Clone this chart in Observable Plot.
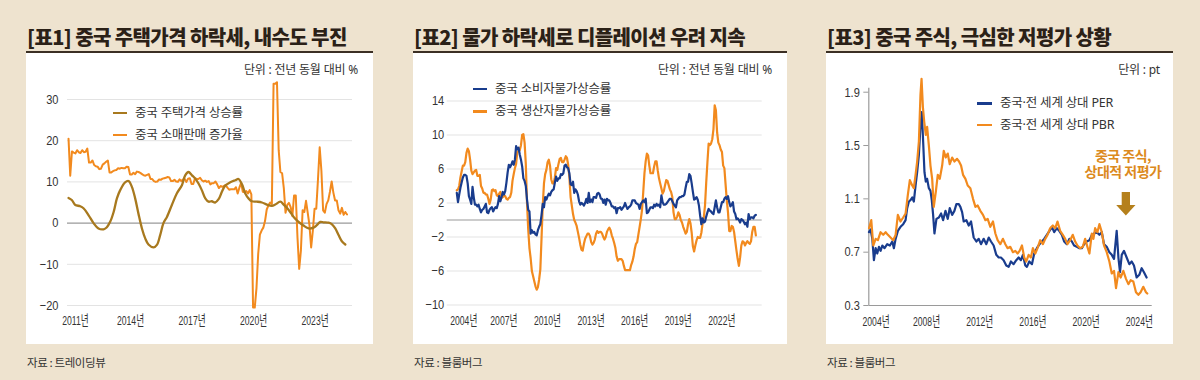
<!DOCTYPE html>
<html><head><meta charset="utf-8">
<script src="https://cdn.jsdelivr.net/npm/d3@7"></script>
<script src="https://cdn.jsdelivr.net/npm/@observablehq/plot@0.6"></script>
<style>
body{margin:0;background:#eee3cf;}
#root{position:relative;width:1200px;height:380px;background:#eee3cf;overflow:hidden;font-family:'Noto Sans CJK KR','Noto Sans',sans-serif;}
.abs{position:absolute;white-space:nowrap;}
.title{font-size:20px;font-weight:900;color:#2b2117;letter-spacing:-0.6px;line-height:21px;}
.rule{height:2px;background:#3b2f24;}
.box{background:#fff;}
.legend{font-family:'Noto Sans','Noto Sans CJK KR',sans-serif;font-size:12.5px;color:#333;line-height:14px;letter-spacing:-0.2px;}
.unit{font-family:'Noto Sans','Noto Sans CJK KR',sans-serif;font-size:12px;color:#333;line-height:14px;letter-spacing:-0.2px;}
.src{font-size:11.5px;color:#333;line-height:14px;letter-spacing:-0.4px;}
.note{font-size:14px;font-weight:700;color:#dc8a1d;line-height:15px;height:15px;width:100px;text-align:center;letter-spacing:-0.5px;}
</style></head>
<body><div id="root"></div>
<script>
// ---------------- DATA ----------------
// Panel 1: China retail sales YoY %, monthly from 2011-01
const retailStart = 2011;
const retail = [
20.5, 11.5, 17.4, 17.1, 16.9, 17.7, 17.2, 17.0, 17.7, 17.2, 17.3, 18.1,
14.7, 14.7, 15.2, 14.1, 13.8, 13.7, 13.1, 13.2, 14.2, 14.5, 14.9, 15.2,
12.3, 12.3, 12.6, 12.8, 12.9, 13.3, 13.2, 13.4, 13.3, 13.3, 13.7, 13.6,
11.8, 11.8, 12.2, 11.9, 12.5, 12.4, 12.2, 11.9, 11.6, 11.5, 11.7, 11.9,
10.7, 10.7, 10.2, 10.0, 10.1, 10.6, 10.5, 10.8, 10.9, 11.0, 11.2, 11.1,
10.2, 10.2, 10.5, 10.1, 10.0, 10.6, 10.2, 10.6, 10.7, 10.0, 10.8, 10.9,
9.5, 9.5, 10.9, 10.7, 10.7, 11.0, 10.4, 10.1, 10.3, 10.0, 10.2, 9.4,
9.7, 9.7, 10.1, 9.4, 8.5, 9.0, 8.8, 9.0, 9.2, 8.6, 8.1, 8.2,
8.2, 8.2, 8.7, 7.2, 8.6, 9.8, 7.6, 7.5, 7.8, 7.2, 8.0, 7.0,
-20.5, -20.5, -15.8, -7.5, -2.8, -1.8, -1.1, 0.5, 3.3, 4.3, 5.0, 4.6,
33.8, 33.8, 34.2, 17.7, 12.4, 12.1, 8.5, 2.5, 4.4, 4.9, 3.9, 1.7,
6.7, 6.7, -3.5, -11.1, -6.7, 3.1, 2.7, 5.4, 2.5, -0.5, -5.9, -1.8,
3.5, 3.5, 10.6, 18.4, 12.7, 3.1, 2.5, 4.6, 5.5, 7.6, 10.1, 7.4,
5.5, 5.5, 3.1, 2.3, 3.7, 2.0, 2.7, 2.1
];
// Panel 1: China house price growth %, [year, value]
const house = [
[2011.00,6.1],[2011.16,5.6],[2011.33,4.4],[2011.57,4.1],[2011.73,3.6],[2011.98,1.9],
[2012.22,0.0],[2012.46,-1.3],[2012.71,-1.5],[2012.87,-1.0],[2013.03,0.3],[2013.20,2.7],
[2013.36,6.0],[2013.52,8.0],[2013.76,9.9],[2013.93,10.2],[2014.09,8.8],[2014.25,6.0],
[2014.41,2.3],[2014.58,-1.3],[2014.74,-3.7],[2014.90,-5.2],[2015.15,-5.9],[2015.31,-5.3],
[2015.47,-2.9],[2015.63,0.0],[2015.80,1.5],[2016.04,4.4],[2016.28,7.2],[2016.53,9.2],
[2016.69,11.6],[2016.85,12.4],[2017.02,11.6],[2017.18,10.8],[2017.34,9.6],[2017.50,8.0],
[2017.67,6.0],[2017.83,5.2],[2017.99,5.3],[2018.15,5.0],[2018.32,5.8],[2018.48,7.6],
[2018.64,9.1],[2018.89,9.9],[2019.13,10.4],[2019.29,10.7],[2019.46,9.4],[2019.62,7.2],
[2019.78,6.0],[2019.94,5.3],[2020.19,5.2],[2020.43,5.0],[2020.67,4.5],[2020.92,4.2],
[2021.08,4.5],[2021.33,5.2],[2021.49,4.5],[2021.65,3.7],[2021.81,2.7],[2021.98,1.5],
[2022.22,0.3],[2022.46,-0.6],[2022.71,-1.3],[2022.95,-1.1],[2023.11,-0.5],[2023.28,0.3],
[2023.44,0.2],[2023.68,0.1],[2023.85,-0.3],[2024.01,-1.3],[2024.17,-2.9],[2024.33,-4.4],
[2024.50,-5.2]
];
const p1YTicks = [-20, -10, 0, 10, 20, 30];
const p1XTicks = [2011, 2014, 2017, 2020, 2023];

// Panel 2: CPI and PPI YoY %, monthly from 2004-01
const priceStart = 2004;
const cpi = [
3.2,2.1,3.0,3.8,4.4,5.0,5.3,5.3,5.2,4.3,2.8,2.4,
1.9,3.9,2.7,1.8,1.8,1.6,1.8,1.3,0.9,1.2,1.3,1.6,
1.9,0.9,0.8,1.2,1.4,1.5,1.0,1.3,1.5,1.4,1.9,2.8,
2.2,2.7,3.3,3.0,3.4,4.4,5.6,6.5,6.2,6.5,6.9,6.5,
7.1,8.7,8.3,8.5,7.7,7.1,6.3,4.9,4.6,4.0,2.4,1.2,
1.0,-1.6,-1.2,-1.5,-1.4,-1.7,-1.8,-1.2,-0.8,-0.5,0.6,1.9,
1.5,2.7,2.4,2.8,3.1,2.9,3.3,3.5,3.6,4.4,5.1,4.6,
4.9,4.9,5.4,5.3,5.5,6.4,6.5,6.2,6.1,5.5,4.2,4.1,
4.5,3.2,3.6,3.4,3.0,2.2,1.8,2.0,1.9,1.7,2.0,2.5,
2.0,3.2,2.1,2.4,2.1,2.7,2.7,2.6,3.1,3.2,3.0,2.5,
2.5,2.0,2.4,1.8,2.5,2.3,2.3,2.0,1.6,1.6,1.4,1.5,
0.8,1.4,1.4,1.5,1.2,1.4,1.6,2.0,1.6,1.3,1.5,1.6,
1.8,2.3,2.3,2.3,2.0,1.9,1.8,1.3,1.9,2.1,2.3,2.1,
2.5,0.8,0.9,1.2,1.5,1.5,1.4,1.8,1.6,1.9,1.7,1.8,
1.5,2.9,2.1,1.8,1.8,1.9,2.1,2.3,2.5,2.5,2.2,1.9,
1.7,1.5,2.3,2.5,2.7,2.7,2.8,2.8,3.0,3.8,4.5,4.5,
5.4,5.2,4.3,3.3,2.4,2.5,2.7,2.4,1.7,0.5,-0.5,0.2,
-0.3,-0.2,0.4,0.9,1.3,1.1,1.0,0.8,0.7,1.5,2.3,1.5,
0.9,0.9,1.5,2.1,2.1,2.5,2.7,2.5,2.8,2.1,1.6,1.8,
2.1,1.0,0.7,0.1,0.2,0.0,-0.3,0.1,0.0,-0.2,-0.5,-0.3,
-0.8,0.7,0.1,0.3,0.3,0.2,0.5,0.6
];
const ppi = [
3.5,3.6,4.0,5.0,5.7,6.4,6.4,6.8,7.9,8.4,8.1,7.1,
5.8,5.4,5.6,5.8,5.9,5.2,5.2,5.3,4.0,3.7,3.2,3.2,
3.0,3.0,2.5,1.9,2.4,3.5,3.6,3.4,3.5,2.9,2.8,3.1,
3.3,2.6,2.7,2.9,2.8,2.5,2.4,2.6,2.7,3.2,4.6,5.4,
6.1,6.6,8.0,8.1,8.2,8.8,10.0,10.1,9.1,6.6,2.0,-1.1,
-3.3,-4.5,-6.0,-6.6,-7.2,-7.8,-8.2,-7.9,-7.0,-5.8,-2.1,1.7,
4.3,5.4,5.9,6.8,7.1,6.4,4.8,4.3,4.3,5.0,6.1,5.9,
6.6,7.2,7.3,6.8,6.8,7.1,7.5,7.3,6.5,5.0,2.7,1.7,
0.7,0.0,-0.3,-0.7,-1.4,-2.1,-2.9,-3.5,-3.6,-2.8,-2.2,-1.9,
-1.6,-1.6,-1.9,-2.6,-2.9,-2.7,-2.3,-1.6,-1.3,-1.5,-1.4,-1.4,
-1.6,-2.0,-2.3,-2.0,-1.4,-1.1,-0.9,-1.2,-1.8,-2.2,-2.7,-3.3,
-4.3,-4.8,-4.6,-4.6,-4.6,-4.8,-5.4,-5.9,-5.9,-5.9,-5.9,-5.9,
-5.3,-4.9,-4.3,-3.4,-2.8,-2.6,-1.7,-0.8,0.1,1.2,3.3,5.5,
6.9,7.8,7.6,6.4,5.5,5.5,5.5,6.3,6.9,6.9,5.8,4.9,
4.3,3.7,3.1,3.4,4.1,4.7,4.6,4.1,3.6,3.3,2.7,0.9,
0.1,0.1,0.4,0.9,0.6,0.0,-0.3,-0.8,-1.2,-1.6,-1.4,-0.5,
0.1,-0.4,-1.5,-3.1,-3.7,-3.0,-2.4,-2.0,-2.1,-2.1,-1.5,-0.4,
0.3,1.7,4.4,6.8,9.0,8.8,9.0,9.5,10.7,13.5,12.9,10.3,
9.1,8.8,8.3,8.0,6.4,6.1,4.2,2.3,0.9,-1.3,-1.3,-0.7,
-0.8,-1.4,-2.5,-3.6,-4.6,-5.4,-4.4,-3.0,-2.5,-2.6,-3.0,-2.7,
-2.5,-2.7,-2.8,-2.5,-1.4,-0.8,-0.8,-1.8
];
const p2YTicks = [-10, -6, -2, 2, 6, 10, 14];
const p2XTicks = [2004, 2007, 2010, 2013, 2016, 2019, 2022];

// Panel 3: China vs world relative PER / PBR, [year, value]
const per = [
[2003.88,.85],[2004.00,.87],[2004.13,.80],[2004.25,.64],[2004.38,.73],[2004.50,.69],[2004.63,.74],[2004.75,.71],
[2004.88,.75],[2005.05,.73],[2005.25,.76],[2005.45,.75],[2005.63,.78],[2005.75,.73],[2005.88,.80],[2006.05,.86],
[2006.25,.89],[2006.45,.91],[2006.63,.94],[2006.75,1.03],[2006.88,1.08],[2007.00,1.09],[2007.13,1.11],[2007.25,1.08],
[2007.38,1.20],[2007.50,1.30],[2007.63,1.43],[2007.75,1.65],[2007.85,1.75],[2007.95,1.53],[2008.05,1.30],[2008.15,1.23],
[2008.25,1.25],[2008.38,1.18],[2008.50,1.16],[2008.60,1.09],[2008.70,.98],[2008.80,.84],[2008.95,.95],[2009.13,.96],
[2009.30,.99],[2009.45,.94],[2009.63,1.01],[2009.80,.95],[2009.95,1.03],[2010.13,.98],[2010.30,1.01],[2010.45,1.06],
[2010.63,1.06],[2010.75,1.04],[2010.88,1.00],[2011.00,.93],[2011.20,.94],[2011.38,.90],[2011.55,.93],[2011.75,.81],
[2011.95,.78],[2012.13,.80],[2012.30,.76],[2012.50,.80],[2012.70,.76],[2012.88,.81],[2013.05,.78],[2013.25,.75],
[2013.45,.68],[2013.63,.66],[2013.80,.66],[2014.00,.64],[2014.20,.60],[2014.38,.59],[2014.55,.63],[2014.75,.61],
[2014.95,.64],[2015.13,.66],[2015.30,.64],[2015.45,.68],[2015.63,.60],[2015.75,.59],[2015.93,.63],[2016.13,.61],
[2016.30,.69],[2016.50,.73],[2016.70,.76],[2016.88,.78],[2017.05,.80],[2017.25,.83],[2017.45,.86],[2017.63,.89],
[2017.80,.85],[2018.00,.88],[2018.18,.86],[2018.38,.83],[2018.55,.78],[2018.75,.76],[2018.95,.80],[2019.13,.78],
[2019.30,.75],[2019.50,.74],[2019.70,.73],[2019.88,.73],[2020.05,.76],[2020.25,.78],[2020.45,.79],[2020.63,.83],
[2020.80,.84],[2021.00,.85],[2021.20,.83],[2021.38,.85],[2021.55,.76],[2021.75,.74],[2021.95,.70],[2022.13,.68],
[2022.30,.65],[2022.50,.86],[2022.63,.66],[2022.75,.55],[2022.88,.68],[2023.05,.71],[2023.25,.66],[2023.45,.61],
[2023.63,.63],[2023.80,.60],[2024.00,.51],[2024.20,.53],[2024.38,.58],[2024.55,.55],[2024.75,.51]
];
const pbr = [
[2003.88,.88],[2004.05,.94],[2004.20,.75],[2004.38,.80],[2004.55,.79],[2004.75,.85],[2004.95,.83],[2005.13,.85],
[2005.30,.83],[2005.50,.81],[2005.70,.79],[2005.88,.83],[2006.05,.98],[2006.25,.93],[2006.45,.96],[2006.63,.99],
[2006.80,1.13],[2006.95,1.24],[2007.13,1.20],[2007.25,1.18],[2007.38,1.28],[2007.50,1.38],[2007.63,1.53],[2007.75,1.88],
[2007.83,2.00],[2007.93,1.79],[2008.03,1.68],[2008.15,1.58],[2008.25,1.64],[2008.38,1.50],[2008.50,1.35],[2008.63,1.25],
[2008.75,1.04],[2008.90,1.15],[2009.05,1.28],[2009.20,1.25],[2009.38,1.35],[2009.50,1.46],[2009.65,1.41],[2009.80,1.44],
[2009.95,1.36],[2010.13,1.41],[2010.30,1.38],[2010.50,1.40],[2010.65,1.38],[2010.80,1.35],[2010.95,1.28],[2011.13,1.25],
[2011.30,1.20],[2011.50,1.18],[2011.70,1.10],[2011.88,1.04],[2012.05,1.05],[2012.25,1.01],[2012.45,.98],[2012.63,.94],
[2012.80,.95],[2013.00,.89],[2013.20,.93],[2013.38,.84],[2013.55,.79],[2013.75,.76],[2013.95,.80],[2014.13,.76],
[2014.30,.73],[2014.50,.74],[2014.70,.70],[2014.88,.71],[2015.05,.69],[2015.20,.71],[2015.38,.75],[2015.55,.66],
[2015.70,.63],[2015.88,.68],[2016.05,.66],[2016.20,.73],[2016.38,.69],[2016.55,.73],[2016.75,.79],[2016.95,.76],
[2017.13,.80],[2017.30,.83],[2017.50,.88],[2017.70,.90],[2017.88,.88],[2018.05,.93],[2018.25,.86],[2018.45,.83],
[2018.63,.80],[2018.80,.76],[2019.00,.79],[2019.20,.83],[2019.38,.78],[2019.55,.75],[2019.75,.73],[2019.95,.74],
[2020.13,.80],[2020.30,.74],[2020.45,.69],[2020.63,.84],[2020.75,.80],[2020.88,.88],[2021.05,.85],[2021.20,.91],
[2021.38,.85],[2021.55,.75],[2021.75,.70],[2021.95,.63],[2022.13,.54],[2022.30,.56],[2022.45,.43],[2022.63,.55],
[2022.80,.51],[2023.00,.56],[2023.20,.50],[2023.38,.46],[2023.55,.49],[2023.75,.48],[2023.95,.40],[2024.13,.38],
[2024.30,.40],[2024.50,.44],[2024.70,.40],[2024.80,.39]
];
const p3YTicks = [0.3, 0.7, 1.1, 1.5, 1.9];
const p3XTicks = [2004, 2008, 2012, 2016, 2020, 2024];

// Texts
const titles = ["[표1] 중국 주택가격 하락세, 내수도 부진", "[표2] 물가 하락세로 디플레이션 우려 지속", "[표3] 중국 주식, 극심한 저평가 상황"];
const sources = ["자료 : 트레이딩뷰", "자료 : 블룸버그", "자료 : 블룸버그"];
const units = ["단위 : 전년 동월 대비 %", "단위 : 전년 동월 대비 %", "단위 :  pt"];
const legend1 = ["중국 주택가격 상승률", "중국 소매판매 증가율"];
const legend2 = ["중국 소비자물가상승률", "중국 생산자물가상승률"];
const legend3 = ["중국·전 세계 상대 PER", "중국·전 세계 상대 PBR"];
const noteLines = ["중국 주식,", "상대적 저평가"];

// ---------------- STYLE / LAYOUT ----------------
const ORANGE = "#f28a1e", NAVY = "#193c8d", BROWN = "#a8791e", NOTE_ARROW = "#b5801c";
const FONT = "'Liberation Sans','Noto Sans CJK KR',sans-serif";
const root = document.getElementById("root");
function el(cls, css, text) {
  const d = document.createElement("div");
  d.className = "abs " + cls;
  Object.assign(d.style, css);
  if (text != null) d.textContent = text;
  root.appendChild(d);
  return d;
}
const panels = [{x: 26, w: 347}, {x: 413, w: 374}, {x: 826, w: 347}];
panels.forEach((p, i) => {
  el("title", {left: (p.x + 1) + "px", top: "26px"}, titles[i]);
  el("rule", {left: p.x + "px", top: "51px", width: p.w + "px"});
  p.box = el("box", {left: p.x + "px", top: "53px", width: p.w + "px", height: "291px"});
  el("src", {left: (p.x + 1) + "px", top: "355px"}, sources[i]);
});
const unitRight = [358, 772, 1160];
units.forEach((u, i) => el("unit", {right: (1200 - unitRight[i]) + "px", top: "63px"}, u));

function legend(items, colors, lx, tx, ys) {
  items.forEach((t, i) => {
    el("", {left: lx + "px", top: (ys[i] - 1.25) + "px", width: "14.5px", height: "2.5px", background: colors[i]});
    el("legend", {left: tx + "px", top: (ys[i] - 7.5) + "px"}, t);
  });
}
legend(legend1, [BROWN, ORANGE], 112.5, 135, [113, 135]);
legend(legend2, [NAVY, ORANGE], 472.5, 495, [89, 111.5]);
legend(legend3, [NAVY, ORANGE], 977, 1000, [103.5, 125]);

noteLines.forEach((t, i) => el("note", {left: "1073px", top: (147.5 + i * 16) + "px"}, t));
const arrow = el("", {left: "1114px", top: "191px"});
arrow.innerHTML = `<svg width="24" height="26"><path d="M7.7,1 H16 V14 H21.5 L11.85,24.5 L2.2,14 H7.7 Z" fill="${NOTE_ARROW}"/></svg>`;

const baseStyle = {background: "transparent", fontFamily: FONT, fontSize: "13.5px", color: "#333", overflow: "visible"};
const yr = (d) => d + "년";

// squeeze tick labels horizontally (reference uses a condensed face)
function squeeze(svg) {
  svg.querySelectorAll("text").forEach(t => {
    const s = t.textContent.includes("년") ? 0.64 : 0.82;
    const tr = t.getAttribute("transform");
    if (tr) {
      t.setAttribute("transform", tr + ` scale(${s},1)`);
    } else {
      const x = parseFloat(t.getAttribute("x"));
      if (isFinite(x)) {
        t.removeAttribute("x");
        t.setAttribute("transform", `translate(${x},0) scale(${s},1)`);
      }
    }
  });
  return svg;
}

// ---------------- PANEL 1 ----------------
const retailRows = retail.map((v, i) => ({t: retailStart + i / 12, v}));
const houseRows = house.map(([t, v]) => ({t, v}));
const plot1 = Plot.plot({
  width: 347, height: 291,
  marginLeft: 41, marginRight: 21, marginTop: 25.4, marginBottom: 39,
  x: {domain: [2010.95, 2024.85], label: null},
  y: {domain: [-20, 35], label: null},
  style: baseStyle,
  marks: [
    Plot.ruleY(p1YTicks.filter(d => d !== 0), {stroke: "#e3e3e3"}),
    Plot.ruleY([0], {stroke: "#9a9a9a", strokeWidth: 1.2}),
    Plot.axisY(p1YTicks, {tickSize: 0, tickPadding: 9, label: null}),
    Plot.axisX(p1XTicks.slice(0, 1), {tickSize: 0, tickPadding: 10, dx: 7, tickFormat: yr, label: null}),
    Plot.axisX(p1XTicks.slice(1), {tickSize: 0, tickPadding: 10, dx: 0.5, tickFormat: yr, label: null}),
    Plot.line(retailRows, {x: "t", y: "v", stroke: ORANGE, strokeWidth: 2}),
    Plot.line(houseRows, {x: "t", y: "v", stroke: BROWN, strokeWidth: 2.3, curve: "catmull-rom"})
  ]
});
panels[0].box.appendChild(squeeze(plot1));

// ---------------- PANEL 2 ----------------
const cpiRows = cpi.map((v, i) => ({t: priceStart + i / 12, v}));
const ppiRows = ppi.map((v, i) => ({t: priceStart + i / 12, v}));
const plot2 = Plot.plot({
  width: 374, height: 291,
  marginLeft: 33.7, marginRight: 25.3, marginTop: 30.5, marginBottom: 39.5,
  x: {domain: [2003.34, 2025.02], label: null},
  y: {domain: [-10, 16], label: null},
  style: baseStyle,
  marks: [
    Plot.ruleY(p2YTicks, {stroke: "#e3e3e3"}),
    Plot.ruleY([0], {stroke: "#9a9a9a", strokeWidth: 1.2}),
    Plot.axisY(p2YTicks, {tickSize: 0, tickPadding: 3, label: null}),
    Plot.axisX(p2XTicks.slice(0, 1), {tickSize: 0, tickPadding: 10, dx: 7, tickFormat: yr, label: null}),
    Plot.axisX(p2XTicks.slice(1), {tickSize: 0, tickPadding: 10, dx: 3.5, tickFormat: yr, label: null}),
    Plot.line(ppiRows, {x: "t", y: "v", stroke: ORANGE, strokeWidth: 2.2}),
    Plot.line(cpiRows, {x: "t", y: "v", stroke: NAVY, strokeWidth: 2.2})
  ]
});
panels[1].box.appendChild(squeeze(plot2));

// ---------------- PANEL 3 ----------------
const perRows = per.map(([t, v]) => ({t, v}));
const pbrRows = pbr.map(([t, v]) => ({t, v}));
const p3x = [2003.865, 2025.17];
const plot3 = Plot.plot({
  width: 347, height: 291,
  marginLeft: 42.3, marginRight: 21.3, marginTop: 34.7, marginBottom: 39,
  x: {domain: p3x, label: null},
  y: {domain: [0.3, 1.93], label: null},
  style: baseStyle,
  marks: [
    Plot.ruleX([p3x[0]], {stroke: "#9a9a9a", strokeWidth: 1.2}),
    Plot.ruleY([0.3], {stroke: "#9a9a9a", strokeWidth: 1.2}),
    Plot.axisY(p3YTicks, {tickSize: 5, tickPadding: 4, stroke: "#9a9a9a", fill: "#333", tickFormat: d3.format(".1f"), label: null}),
    Plot.axisX(p3XTicks.slice(0, 1), {tickSize: 0, tickPadding: 11, dx: 5.5, tickFormat: yr, label: null}),
    Plot.axisX(p3XTicks.slice(1), {tickSize: 0, tickPadding: 11, dx: 2.7, tickFormat: yr, label: null}),
    Plot.line(perRows, {x: "t", y: "v", stroke: NAVY, strokeWidth: 2.2}),
    Plot.line(pbrRows, {x: "t", y: "v", stroke: ORANGE, strokeWidth: 2.2})
  ]
});
panels[2].box.appendChild(squeeze(plot3));
</script>
</body></html>
